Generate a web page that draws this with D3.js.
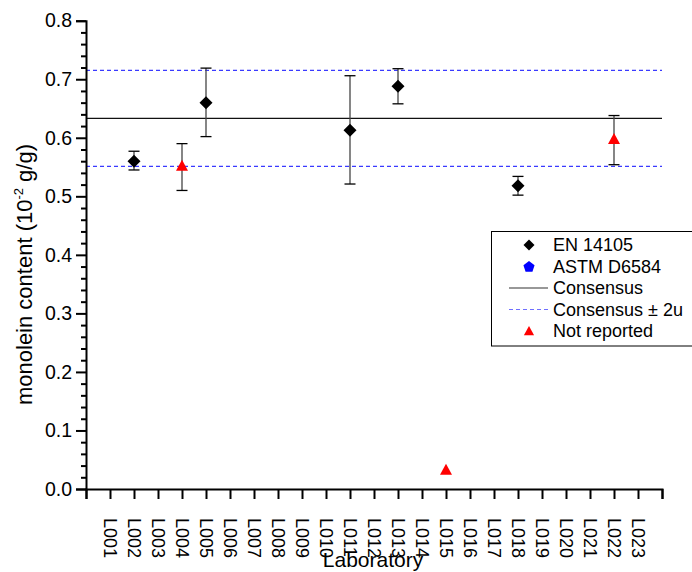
<!DOCTYPE html>
<html>
<head>
<meta charset="utf-8">
<script src="https://cdn.jsdelivr.net/npm/d3@7"></script>
<style>
  html, body { margin: 0; padding: 0; background: #fff; }
  svg { display: block; }
  svg text { font-family: "Liberation Sans", Arial, sans-serif; }
</style>
</head>
<body>
<svg id="chart" width="692" height="572"></svg>
<script>
// Laboratory codes along the x axis
const labs = ["L001","L002","L003","L004","L005","L006","L007","L008","L009","L010","L011","L012",
              "L013","L014","L015","L016","L017","L018","L019","L020","L021","L022","L023"];

// EN 14105 results: mean and error bar limits
const enLabs   = ["L002","L005","L011","L013","L018"];
const enValues = [0.560, 0.660, 0.613, 0.688, 0.518];
const enLow    = [0.545, 0.602, 0.521, 0.658, 0.502];
const enHigh   = [0.577, 0.719, 0.706, 0.718, 0.534];

// Results with method not reported
const nrLabs   = ["L004","L015","L022"];
const nrValues = [0.552, 0.033, 0.598];
const nrLow    = [0.510, null, 0.554];
const nrHigh   = [0.590, null, 0.638];

// Consensus value and its ±2u band
const consensus = [0.633];
const band = [0.551, 0.715];

const yMajorTicks = [0.0, 0.1, 0.2, 0.3, 0.4, 0.5, 0.6, 0.7, 0.8];

const legendItems = ["EN 14105", "ASTM D6584", "Consensus", "Consensus \u00B1 2u", "Not reported"];

const svg = d3.select("#chart");
const x = d3.scaleLinear().domain([0, 24]).range([86, 662]);
const y = d3.scaleLinear().domain([0, 0.8]).range([489, 20.7]);
const pos = lab => labs.indexOf(lab) + 1;

// Reference lines
const refG = svg.append("g");
refG.selectAll("line.band").data(band).join("line")
  .attr("x1", x(0)).attr("x2", x(24))
  .attr("y1", d => y(d)).attr("y2", d => y(d))
  .attr("stroke", "#3a3aff").attr("stroke-width", 1.2).attr("stroke-dasharray", "4,3");
refG.selectAll("line.cons").data(consensus).join("line")
  .attr("x1", x(0)).attr("x2", x(24))
  .attr("y1", d => y(d)).attr("y2", d => y(d))
  .attr("stroke", "#111").attr("stroke-width", 1.2);

// Error bars
function errorBars(labsArr, lo, hi) {
  const rows = labsArr.map((l, i) => ({ x: pos(l), lo: lo[i], hi: hi[i] })).filter(d => d.lo != null);
  const g = svg.append("g");
  g.selectAll("line.v").data(rows).join("line")
    .attr("x1", d => x(d.x)).attr("x2", d => x(d.x))
    .attr("y1", d => y(d.lo)).attr("y2", d => y(d.hi))
    .attr("stroke", "#444").attr("stroke-width", 1.3);
  ["lo", "hi"].forEach(k => {
    g.selectAll("line.c" + k).data(rows).join("line")
      .attr("x1", d => x(d.x) - 5.5).attr("x2", d => x(d.x) + 5.5)
      .attr("y1", d => y(d[k])).attr("y2", d => y(d[k]))
      .attr("stroke", "#000").attr("stroke-width", 1.3);
  });
}
errorBars(enLabs, enLow, enHigh);
errorBars(nrLabs, nrLow, nrHigh);

const diamond = "M0,-6.5L6.5,0L0,6.5L-6.5,0Z";
const triangle = "M0,-6L6,5L-6,5Z";
const pentagon = d3.range(5).map(i => {
  const a = -Math.PI / 2 + i * 2 * Math.PI / 5;
  return [6.5 * Math.cos(a), 6.5 * Math.sin(a) + 0.5];
});

svg.append("g").selectAll("path").data(enLabs.map((l, i) => [pos(l), enValues[i]])).join("path")
  .attr("d", diamond).attr("fill", "#000")
  .attr("transform", d => `translate(${x(d[0])},${y(d[1])})`);
svg.append("g").selectAll("path").data(nrLabs.map((l, i) => [pos(l), nrValues[i]])).join("path")
  .attr("d", triangle).attr("fill", "#ff0000")
  .attr("transform", d => `translate(${x(d[0])},${y(d[1])})`);

// Y axis: major and minor ticks
const yAxis = svg.append("g").attr("transform", `translate(${x(0)},0)`)
  .call(d3.axisLeft(y).tickValues(yMajorTicks).tickSize(10).tickFormat(d3.format(".1f")).tickPadding(4));
const minor = d3.range(0, 41).map(i => i * 0.02).filter(v => Math.abs(v * 10 - Math.round(v * 10)) > 1e-6);
svg.append("g").attr("transform", `translate(${x(0)},0)`)
  .call(d3.axisLeft(y).tickValues(minor).tickSize(5).tickFormat(""))
  .call(g => g.select(".domain").remove());

// X axis
svg.append("g").attr("transform", `translate(0,${y(0)})`)
  .call(d3.axisBottom(x).tickValues(d3.range(0, 25)).tickSize(10).tickFormat(""));

svg.selectAll(".domain, .tick line").attr("stroke", "#000").attr("stroke-width", 2);
yAxis.selectAll(".tick text").attr("font-size", 19.5).attr("fill", "#000");

// Rotated laboratory labels
svg.append("g").selectAll("text").data(labs).join("text")
  .attr("transform", (d, i) => `translate(${x(i + 1)},518) rotate(90)`)
  .attr("dy", "0.35em").attr("font-size", 18).attr("fill", "#000")
  .text(d => d);

// Axis titles
svg.append("text").attr("x", 373).attr("y", 567).attr("text-anchor", "middle")
  .attr("font-size", 21).attr("fill", "#000").text("Laboratory");

const yt = svg.append("text").attr("transform", "translate(32,274.5) rotate(-90)")
  .attr("text-anchor", "middle").attr("font-size", 22).attr("fill", "#000");
yt.append("tspan").text("monolein content (10");
yt.append("tspan").attr("font-size", 13).attr("dy", -9).text("-2");
yt.append("tspan").attr("dy", 9).text(" g/g)");

// Legend
const lg = svg.append("g");
lg.append("rect").attr("x", 491.5).attr("y", 231.5).attr("width", 210).attr("height", 114.5)
  .attr("fill", "#fff").attr("stroke", "#000").attr("stroke-width", 1);
const rowY = i => 245 + i * 21.5;
lg.append("path").attr("d", diamond).attr("fill", "#000")
  .attr("transform", `translate(529,${rowY(0)}) scale(0.85)`);
lg.append("path").attr("d", "M" + pentagon.join("L") + "Z").attr("fill", "#0000ff")
  .attr("transform", `translate(529,${rowY(1)}) scale(0.9)`);
lg.append("line").attr("x1", 509).attr("x2", 548).attr("y1", rowY(2)).attr("y2", rowY(2))
  .attr("stroke", "#333").attr("stroke-width", 1.2);
lg.append("line").attr("x1", 509).attr("x2", 548).attr("y1", rowY(3)).attr("y2", rowY(3))
  .attr("stroke", "#6f6fff").attr("stroke-width", 1.2).attr("stroke-dasharray", "4,3");
lg.append("path").attr("d", triangle).attr("fill", "#ff0000")
  .attr("transform", `translate(529,${rowY(4)}) scale(0.85)`);
lg.selectAll("text").data(legendItems).join("text")
  .attr("x", 553).attr("y", (d, i) => rowY(i)).attr("dy", "0.35em")
  .attr("font-size", 18).attr("fill", "#000").text(d => d);
</script>
</body>
</html>
